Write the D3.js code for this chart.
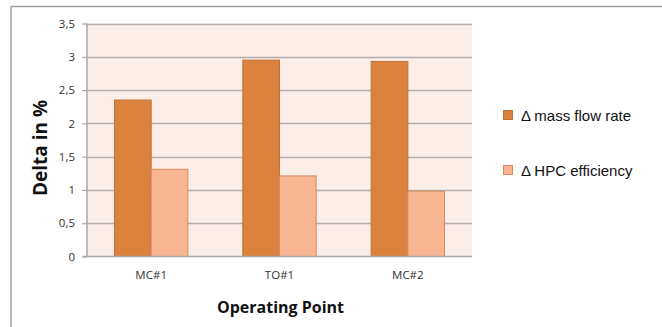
<!DOCTYPE html>
<html>
<head>
<meta charset="utf-8">
<script src="https://cdn.jsdelivr.net/npm/d3@7"></script>
<style>
  html, body { margin: 0; padding: 0; background: #ffffff; }
  svg { display: block; }
</style>
</head>
<body>
<svg id="chart" width="662" height="327"></svg>
<script>
// Operating points and the two delta series (percent)
const categories = ["MC#1", "TO#1", "MC#2"];
const seriesNames = ["\u0394 mass flow rate", "\u0394 HPC efficiency"];
const massFlowDelta = [2.35, 2.95, 2.93];
const hpcEffDelta = [1.31, 1.21, 0.98];
const yTicks = [0, 0.5, 1, 1.5, 2, 2.5, 3, 3.5];

const fills = ["#db823e", "#f8b591"];
const strokes = ["#c4712f", "#d98a5c"];

const svg = d3.select("#chart");
const plot = { left: 87, right: 472, top: 23.5, bottom: 256.5 };

// outer frame (top and left edges)
svg.append("line").attr("x1", 11).attr("x2", 662).attr("y1", 6.5).attr("y2", 6.5)
  .attr("stroke", "#a0a0a0").attr("stroke-width", 1.5);
svg.append("line").attr("x1", 11).attr("x2", 11).attr("y1", 6.5).attr("y2", 327)
  .attr("stroke", "#a0a0a0").attr("stroke-width", 1.5);

const x = d3.scaleBand().domain(categories).range([plot.left, plot.right]).paddingInner(0).paddingOuter(0);
const y = d3.scaleLinear().domain([0, 3.5]).range([plot.bottom, plot.top]);

// plot background
svg.append("rect").attr("x", plot.left).attr("y", plot.top)
  .attr("width", plot.right - plot.left).attr("height", plot.bottom - plot.top)
  .attr("fill", "#fbede8");

// gridlines
svg.append("g").selectAll("line").data(yTicks.filter(d => d > 0)).join("line")
  .attr("x1", plot.left).attr("x2", plot.right)
  .attr("y1", d => Math.round(y(d)) + 0.5).attr("y2", d => Math.round(y(d)) + 0.5)
  .attr("stroke", "#b3adab").attr("stroke-width", 1.5);

// bars
const gap = 1.5; // gap width relative to bar width
const barW = x.bandwidth() / (2 + gap);
const seriesData = [massFlowDelta, hpcEffDelta];
seriesData.forEach((vals, s) => {
  svg.append("g").selectAll("rect").data(vals).join("rect")
    .attr("x", (d, i) => x(categories[i]) + barW * gap / 2 + s * barW)
    .attr("y", d => y(d))
    .attr("width", barW)
    .attr("height", d => y(0) - y(d))
    .attr("fill", fills[s])
    .attr("stroke", strokes[s])
    .attr("stroke-width", 1);
});

// y axis
const yAxis = d3.axisLeft(y).tickValues(yTicks).tickSize(5)
  .tickFormat(d => d3.format("")(d).replace(".", ","));
const gy = svg.append("g").attr("transform", `translate(${plot.left},0)`).call(yAxis);
gy.select(".domain").attr("stroke", "#a9a9a9").attr("stroke-width", 1.5)
  .attr("d", `M0,${plot.top}V${plot.bottom}`);
gy.selectAll(".tick line").attr("stroke", "#a9a9a9").attr("stroke-width", 1.2);
gy.selectAll(".tick text").attr("x", -12).attr("fill", "#333")
  .style("font-family", "'Open Sans', 'Liberation Sans', sans-serif").style("font-size", "11.5px");

// x axis
const xAxis = d3.axisBottom(x).tickSize(0).tickPadding(14);
const gx = svg.append("g").attr("transform", `translate(0,${plot.bottom})`).call(xAxis);
gx.select(".domain").attr("stroke", "#a9a9a9").attr("stroke-width", 1.5)
  .attr("d", `M${plot.left - 4},0H${plot.right}`);
gx.selectAll(".tick text").attr("fill", "#333")
  .style("font-family", "'Open Sans', 'Liberation Sans', sans-serif").style("font-size", "11.5px");

// axis titles
svg.append("text").attr("x", (plot.left + plot.right) / 2 + 1).attr("y", 313)
  .attr("text-anchor", "middle").attr("fill", "#111")
  .style("font-family", "'Open Sans', 'Liberation Sans', sans-serif")
  .style("font-size", "16px").style("font-weight", "bold")
  .text("Operating Point");
svg.append("text").attr("transform", "translate(47,148) rotate(-90)")
  .attr("text-anchor", "middle").attr("fill", "#111")
  .style("font-family", "'Open Sans', 'Liberation Sans', sans-serif")
  .style("font-size", "19px").style("font-weight", "bold")
  .text("Delta in %");

// legend
const legend = svg.append("g");
seriesNames.forEach((name, s) => {
  const ly = 116 + s * 55;
  legend.append("rect").attr("x", 503.5).attr("y", ly - 5.5).attr("width", 9).attr("height", 9)
    .attr("fill", fills[s]).attr("stroke", strokes[s]).attr("stroke-width", 1);
  legend.append("text").attr("x", 521).attr("y", ly + 5).attr("fill", "#111")
    .style("font-family", "'Liberation Sans', Arial, sans-serif").style("font-size", "15px")
    .text(name);
});
</script>
</body>
</html>
